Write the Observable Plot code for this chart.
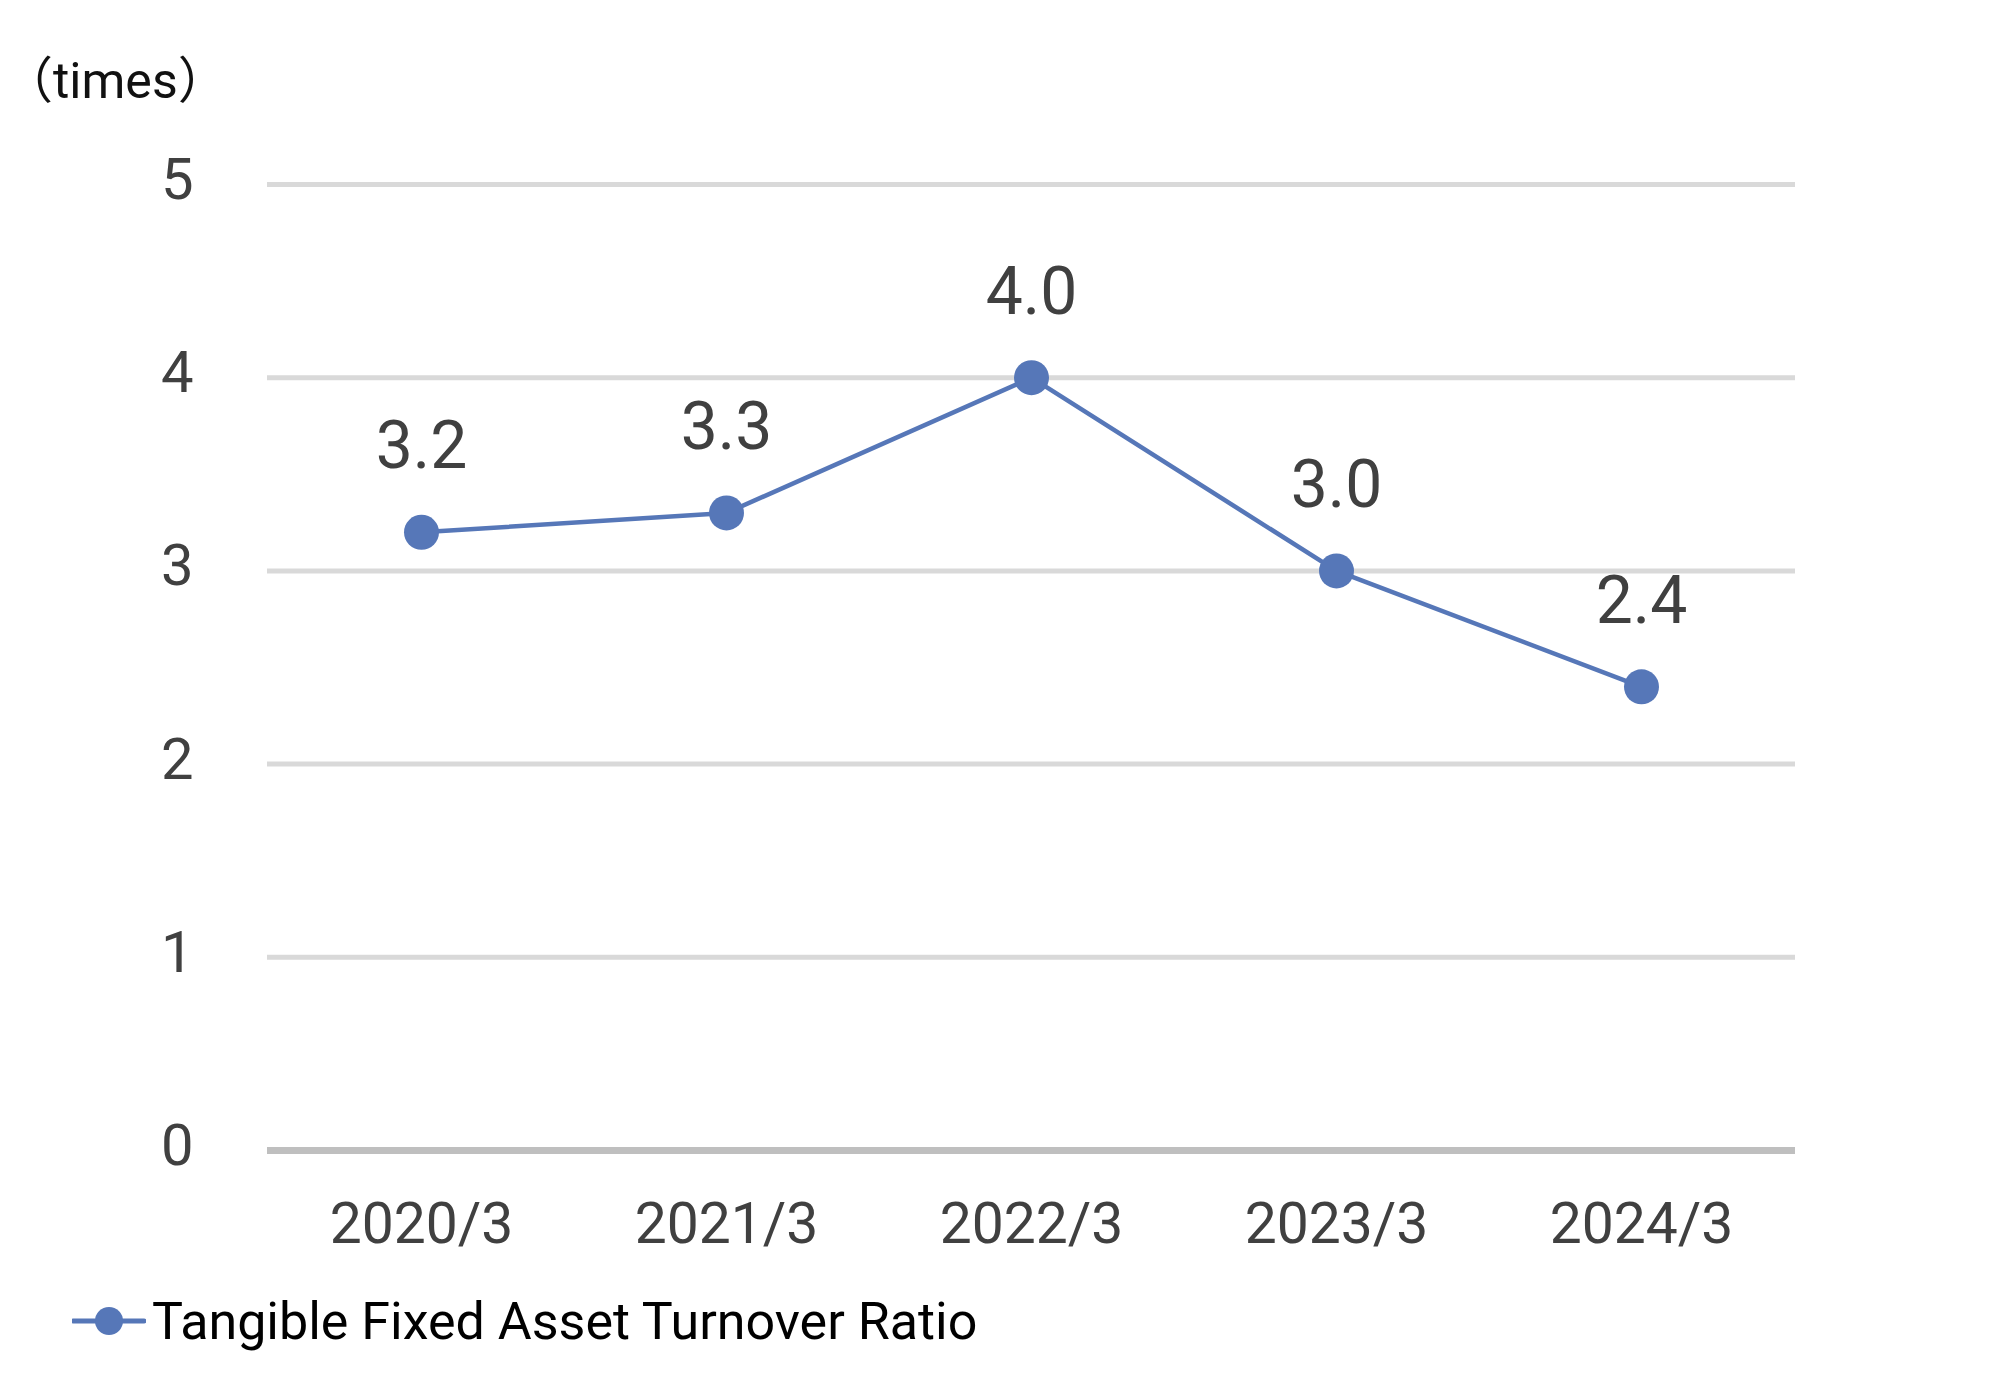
<!DOCTYPE html>
<html>
<head>
<meta charset="utf-8">
<script src="https://cdn.jsdelivr.net/npm/d3@7"></script>
<script src="https://cdn.jsdelivr.net/npm/@observablehq/plot@0.6"></script>
<style>
  html, body { margin: 0; padding: 0; background: #fff; }
  #wrap { position: relative; width: 2000px; height: 1395px; overflow: hidden; font-family: Roboto, "Noto Sans CJK JP", sans-serif; }
  #chart { position: absolute; left: 0; top: 0; }
  #unit { position: absolute; left: 3px; top: 56px; font-size: 50px; color: #111; line-height: 1; white-space: nowrap; }
  #legend { position: absolute; left: 72px; top: 1290px; height: 62px; display: flex; align-items: center; font-size: 52px; color: #000; white-space: nowrap; }
  #legend svg { margin-right: 6px; }
</style>
</head>
<body>
<div id="wrap">
  <div id="chart"></div>
  <div id="unit">（times）</div>
  <div id="legend"></div>
</div>
<script>
const categories = ["2020/3", "2021/3", "2022/3", "2023/3", "2024/3"];
const values = [3.2, 3.3, 4.0, 3.0, 2.4];
const yTicks = [0, 1, 2, 3, 4, 5];
const seriesName = "Tangible Fixed Asset Turnover Ratio";

const data = categories.map((c, i) => ({category: c, value: values[i]}));
const blue = "#5677B8";

const chart = Plot.plot({
  width: 2000,
  height: 1260,
  marginLeft: 267,
  marginRight: 205,
  marginTop: 184,
  marginBottom: 110,
  style: {fontFamily: "Roboto, 'Noto Sans CJK JP', sans-serif", background: "transparent"},
  x: {type: "point", domain: categories, padding: 0.5, label: null},
  y: {domain: [0, 5], label: null},
  marks: [
    Plot.gridY(yTicks.filter(d => d > 0), {stroke: "#d9d9d9", strokeWidth: 5, strokeOpacity: 1}),
    Plot.ruleY([0], {stroke: "#bfbfbf", strokeWidth: 7}),
    Plot.axisY(yTicks, {tickSize: 0, tickPadding: 74, fontSize: 58, fill: "#404040", dy: -4, tickFormat: d => String(d)}),
    Plot.axisX({tickSize: 0, tickPadding: 52, fontSize: 57, fill: "#404040"}),
    Plot.line(data, {x: "category", y: "value", stroke: blue, strokeWidth: 4.5}),
    Plot.dot(data, {x: "category", y: "value", r: 17.5, fill: blue, stroke: "none"}),
    Plot.text(data, {x: "category", y: "value", text: d => d.value.toFixed(1), lineAnchor: "bottom", dy: -64, fontSize: 66, fill: "#404040"})
  ]
});
document.getElementById("chart").appendChild(chart);

const legend = document.getElementById("legend");
legend.innerHTML = `<svg width="74" height="40" viewBox="0 0 74 40"><line x1="1" y1="20" x2="72" y2="20" stroke="${blue}" stroke-width="5" stroke-linecap="round"/><circle cx="37" cy="20" r="14" fill="${blue}"/></svg><span>${seriesName}</span>`;
</script>
</body>
</html>
